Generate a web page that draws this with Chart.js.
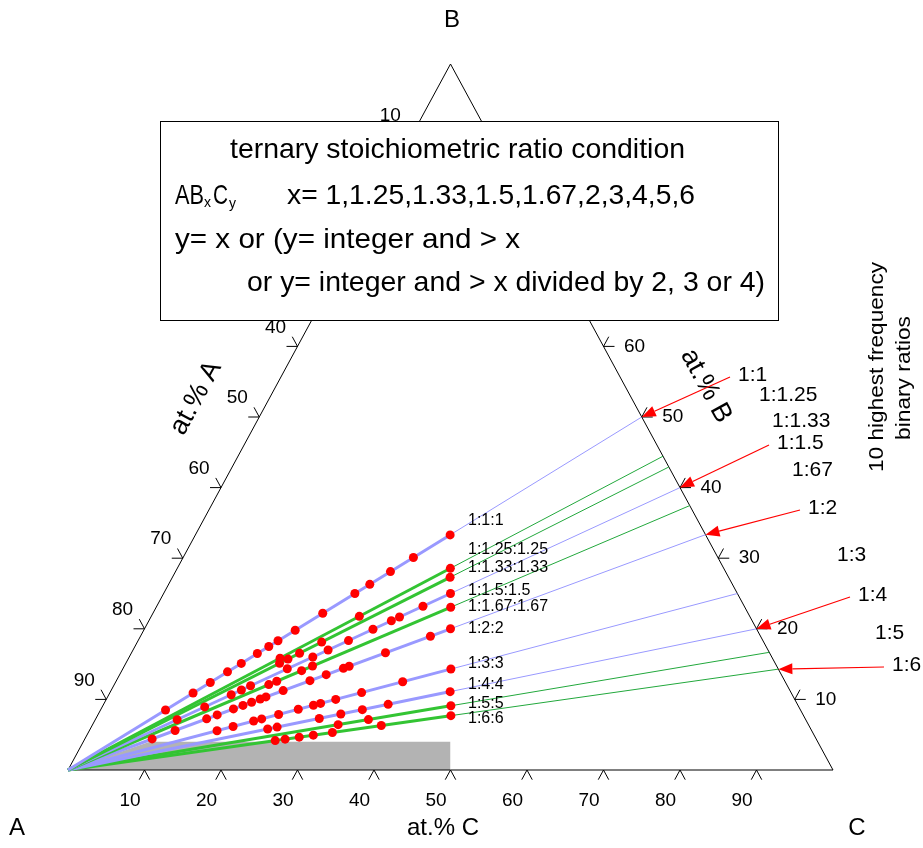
<!DOCTYPE html>
<html>
<head>
<meta charset="utf-8">
<script src="https://cdn.jsdelivr.net/npm/chart.js@4.4.0/dist/chart.umd.min.js"></script>
<style>
  body { margin: 0; background: #fff; }
  canvas { display: block; }
</style>
</head>
<body>
<canvas id="myChart" width="923" height="848"></canvas>
<script>
// binary ratios B:C = 1:r (lines from corner A)
var ratios = [1, 1.25, 1.33, 1.5, 1.67, 2, 3, 4, 5, 6];
var lineLabels = ["1:1:1", "1:1.25:1.25", "1:1.33:1.33", "1:1.5:1.5", "1:1.67:1.67", "1:2:2", "1:3:3", "1:4:4", "1:5:5", "1:6:6"];
var binaryLabels = ["1:1", "1:1.25", "1:1.33", "1:1.5", "1:67", "1:2", "1:3", "1:4", "1:5", "1:6"];
var arrowed = [true, false, false, true, false, true, false, true, false, true];
var isGreen = [false, true, true, false, true, false, false, false, true, true];
var tickValues = [10, 20, 30, 40, 50, 60, 70, 80, 90];

// at.% C of the compounds found on each ratio line
var dotsR1 = [8.5, 10.9, 12.4, 13.9, 15.1, 16.5, 17.5, 18.3, 19.8, 22.2, 25.0, 26.3, 28.1, 30.1, 33.3];
var dotsR125 = [19.8, 27.2, 35.7];
var dotsR133 = [20.1, 20.9, 22.0, 24.1, 36.3];
var dotsR15 = [10.7, 13.4, 16.0, 17.0, 17.9, 21.5, 24.0, 25.5, 27.5, 29.9, 31.7, 32.5, 34.8, 37.5];
var dotsR167 = [20.2, 21.0, 23.5, 24.6, 38.5];
var dotsR2 = [8.8, 11.2, 14.5, 15.6, 17.3, 18.3, 19.2, 20.1, 20.7, 22.5, 25.3, 27.0, 28.8, 29.4, 33.2, 37.9, 40.0];
var dotsR3 = [16.7, 18.5, 20.8, 21.7, 23.6, 25.8, 27.5, 28.3, 30.0, 32.9, 37.5, 42.9];
var dotsR4 = [23.2, 24.3, 29.2, 31.7, 34.2, 37.2, 44.4];
var dotsR5 = [32.1, 35.7, 45.5];
var dotsR6 = [25.0, 26.2, 27.9, 29.6, 31.9, 37.8, 46.2];
var dotSets = [dotsR1, dotsR125, dotsR133, dotsR15, dotsR167, dotsR2, dotsR3, dotsR4, dotsR5, dotsR6];

// grey region (A, B, C at.%)
var shadeA = [100, 87.3, 48, 50];
var shadeB = [0, 4, 4, 0];
var shadeC = [0, 8.7, 48, 50];

// ternary -> cartesian (x 0..100, y 0..100)
function tern(a, b, c) {
  var s = a + b + c;
  return { x: (c + b / 2) * 100 / s, y: b * 100 / s };
}

var BLUE = "#9999ff";
var GREEN = "#33c433";
var THIN_GREEN = "#22a83c";

var datasets = [];

// dots
var dotPoints = [];
for (let i = 0; i < ratios.length; i++) {
  dotSets[i].forEach(function (c) {
    var b = c / ratios[i];
    dotPoints.push(tern(100 - b - c, b, c));
  });
}
datasets.push({
  data: dotPoints, pointRadius: 4.5, pointBackgroundColor: "#ff0000",
  pointBorderWidth: 0, showLine: false, order: 0, clip: false
});

// thick lines A -> B:C:A = 1:r:r, thin lines A -> binary edge
for (let i = 0; i < ratios.length; i++) {
  var r = ratios[i];
  var endB = 100 / (1 + 2 * r);
  var edgeB = 100 / (1 + r);
  datasets.push({
    data: [tern(100, 0, 0), tern(r * endB, endB, r * endB)],
    showLine: true, borderColor: isGreen[i] ? GREEN : BLUE, borderWidth: 3,
    pointRadius: 0, order: 1, clip: false
  });
  datasets.push({
    data: [tern(100, 0, 0), tern(0, edgeB, r * edgeB)],
    showLine: true, borderColor: isGreen[i] ? THIN_GREEN : BLUE, borderWidth: 1,
    pointRadius: 0, order: 2, clip: false
  });
}

// triangle
datasets.push({
  data: [tern(100, 0, 0), tern(0, 100, 0), tern(0, 0, 100), tern(100, 0, 0)],
  showLine: true, borderColor: "#000", borderWidth: 1, pointRadius: 0, order: 3, clip: false
});

// grey area
var shadePts = [];
for (let i = 0; i < shadeA.length; i++) shadePts.push(tern(shadeA[i], shadeB[i], shadeC[i]));
datasets.push({
  data: shadePts, showLine: true, fill: "origin", backgroundColor: "#b3b3b3",
  borderWidth: 0, borderColor: "rgba(0,0,0,0)", pointRadius: 0, order: 4, clip: false
});

function fitText(c, text, x, y, width) {
  var w = c.measureText(text).width;
  c.save();
  c.translate(x, y);
  c.scale(width / w, 1);
  c.textAlign = "left";
  c.fillText(text, 0, 0);
  c.restore();
}

function arrow(c, x1, y1, x2, y2) {
  var ang = Math.atan2(y2 - y1, x2 - x1);
  var len = 14, hw = 5.5;
  var bx = x2 - len * Math.cos(ang), by = y2 - len * Math.sin(ang);
  c.strokeStyle = "#ff0000";
  c.fillStyle = "#ff0000";
  c.lineWidth = 1.2;
  c.beginPath();
  c.moveTo(x1, y1);
  c.lineTo(bx, by);
  c.stroke();
  c.beginPath();
  c.moveTo(x2, y2);
  c.lineTo(bx - hw * Math.sin(ang), by + hw * Math.cos(ang));
  c.lineTo(bx + hw * Math.sin(ang), by - hw * Math.cos(ang));
  c.closePath();
  c.fill();
}

var lineLabelY = [521, 550, 568, 591, 607, 629, 664, 685, 704, 719];
var binLabelX = [738, 759, 772, 777, 792, 808, 837, 858, 875, 892];
var binLabelY = [375, 395, 421, 443, 470, 508, 555, 595, 633, 665];

var ternaryDecor = {
  id: "ternaryDecor",
  afterDraw: function (chart) {
    var c = chart.ctx;
    var sx = chart.scales.x, sy = chart.scales.y;
    function P(a, b, cc) {
      var p = tern(a, b, cc);
      return { x: sx.getPixelForValue(p.x), y: sy.getPixelForValue(p.y) };
    }
    var pA = P(100, 0, 0), pB = P(0, 100, 0), pC = P(0, 0, 100);
    function unit(p, q) {
      var dx = q.x - p.x, dy = q.y - p.y, l = Math.sqrt(dx * dx + dy * dy);
      return { x: dx / l, y: dy / l };
    }
    var uBA = unit(pB, pA), uBC = unit(pB, pC);
    var L = 11;

    c.save();
    c.strokeStyle = "#000";
    c.lineWidth = 1;
    c.fillStyle = "#000";
    c.font = "19px 'Liberation Sans'";
    c.textAlign = "center";
    c.textBaseline = "middle";
    tickValues.forEach(function (v) {
      // bottom: at.% C
      var p = P(100 - v, 0, v);
      c.beginPath();
      c.moveTo(p.x + uBA.x * L, p.y + uBA.y * L);
      c.lineTo(p.x, p.y);
      c.lineTo(p.x + uBC.x * L, p.y + uBC.y * L);
      c.stroke();
      c.fillText(String(v), p.x - 14.5, p.y + 31);
      // left: at.% A
      p = P(v, 100 - v, 0);
      c.beginPath();
      c.moveTo(p.x - L, p.y);
      c.lineTo(p.x, p.y);
      c.lineTo(p.x - uBC.x * L, p.y - uBC.y * L);
      c.stroke();
      c.fillText(String(v), p.x - 22, p.y - 19);
      // right: at.% B
      p = P(0, v, 100 - v);
      c.beginPath();
      c.moveTo(p.x + L, p.y);
      c.lineTo(p.x, p.y);
      c.lineTo(p.x - uBA.x * L, p.y - uBA.y * L);
      c.stroke();
      c.fillText(String(v), p.x + 31, p.y);
    });

    // box
    c.fillStyle = "#fff";
    c.fillRect(160, 121, 618, 199);
    c.strokeStyle = "#000";
    c.strokeRect(160.5, 121.5, 618, 199);
    c.fillStyle = "#000";
    c.textBaseline = "middle";
    c.font = "28px 'Liberation Sans'";
    fitText(c, "ternary stoichiometric ratio condition", 230, 150, 455);
    fitText(c, "AB", 175, 196, 29);
    fitText(c, "C", 213, 196, 15);
    c.font = "15px 'Liberation Sans'";
    fitText(c, "x", 204, 203, 7);
    fitText(c, "y", 229, 204, 7);
    c.font = "28px 'Liberation Sans'";
    fitText(c, "x= 1,1.25,1.33,1.5,1.67,2,3,4,5,6", 287, 196, 408);
    fitText(c, "y= x or (y= integer and > x", 175, 240, 345);
    fitText(c, "or y= integer and > x divided by 2, 3 or 4)", 247, 283, 518);

    // corner and axis titles
    c.textAlign = "center";
    c.font = "24px 'Liberation Sans'";
    c.fillText("B", 452, 20);
    c.fillText("A", 17, 828);
    c.fillText("C", 857, 828);
    c.fillText("at.% C", 443, 828);
    c.save();
    c.translate(196, 398);
    c.rotate(Math.atan2(pB.y - pA.y, pB.x - pA.x));
    c.font = "27px 'Liberation Sans'";
    c.fillText("at.% A", 0, 0);
    c.restore();
    c.save();
    c.translate(706, 386);
    c.rotate(Math.atan2(pC.y - pB.y, pC.x - pB.x));
    c.font = "27px 'Liberation Sans'";
    c.fillText("at.% B", 0, 0);
    c.restore();

    c.save();
    c.font = "21px 'Liberation Sans'";
    c.translate(877, 472);
    c.rotate(-Math.PI / 2);
    fitText(c, "10 highest frequency", 0, 0, 210);
    c.restore();
    c.save();
    c.font = "21px 'Liberation Sans'";
    c.translate(904, 440);
    c.rotate(-Math.PI / 2);
    fitText(c, "binary ratios", 0, 0, 124);
    c.restore();

    // line labels
    c.textAlign = "left";
    c.font = "16px 'Liberation Sans'";
    lineLabels.forEach(function (t, i) {
      c.fillText(t, 468, lineLabelY[i]);
    });

    // binary ratio labels and arrows
    c.font = "21px 'Liberation Sans'";
    binaryLabels.forEach(function (t, i) {
      c.fillStyle = "#000";
      c.fillText(t, binLabelX[i], binLabelY[i]);
      if (arrowed[i]) {
        var b = 100 / (1 + ratios[i]);
        var tip = P(0, b, ratios[i] * b);
        arrow(c, binLabelX[i] - 8, binLabelY[i] + 2, tip.x, tip.y);
      }
    });
    c.restore();
  }
};

new Chart(document.getElementById("myChart"), {
  type: "scatter",
  data: { datasets: datasets },
  options: {
    responsive: false,
    animation: false,
    events: [],
    layout: { padding: { left: 68, right: 90, top: 64, bottom: 78 } },
    plugins: { legend: { display: false }, tooltip: { enabled: false } },
    scales: {
      x: { type: "linear", min: 0, max: 100, display: false },
      y: { type: "linear", min: 0, max: 100, display: false }
    },
    elements: { line: { tension: 0 } }
  },
  plugins: [ternaryDecor]
});
</script>
</body>
</html>
